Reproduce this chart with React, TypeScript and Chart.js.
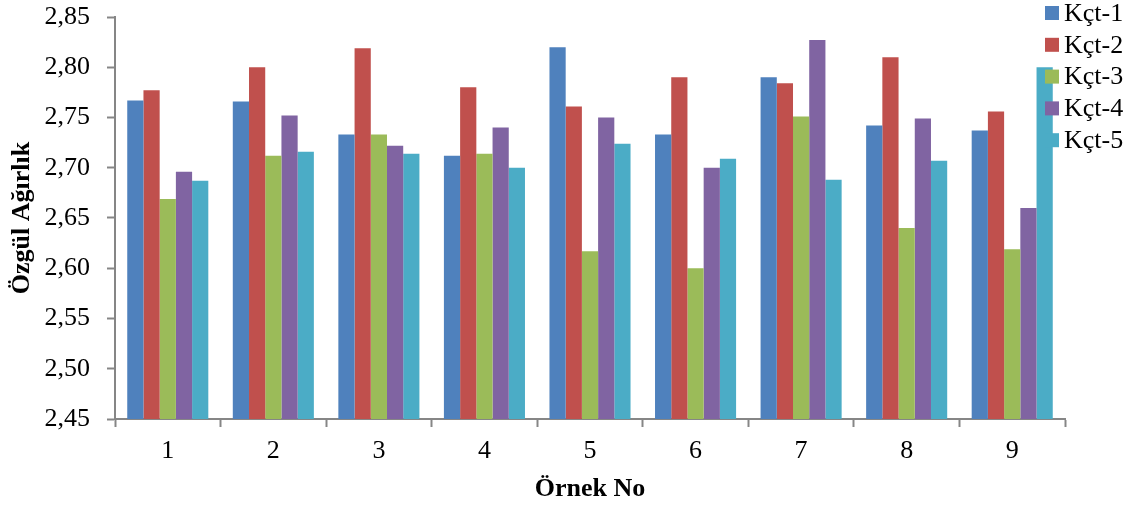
import React, { useEffect, useRef } from "react";
import { Chart, registerables } from "chart.js";
Chart.register(...registerables);

const categories = ["1", "2", "3", "4", "5", "6", "7", "8", "9"];
const seriesNames = ["Kçt-1", "Kçt-2", "Kçt-3", "Kçt-4", "Kçt-5"];
const kct1 = [2.767, 2.766, 2.733, 2.712, 2.820, 2.733, 2.790, 2.742, 2.737];
const kct2 = [2.777, 2.800, 2.819, 2.780, 2.761, 2.790, 2.784, 2.810, 2.756];
const kct3 = [2.669, 2.712, 2.733, 2.714, 2.617, 2.600, 2.751, 2.640, 2.619];
const kct4 = [2.696, 2.752, 2.722, 2.740, 2.750, 2.700, 2.827, 2.749, 2.660];
const kct5 = [2.687, 2.716, 2.714, 2.700, 2.724, 2.709, 2.688, 2.707, 2.800];
const colors = ["#4F81BD", "#C0504D", "#9BBB59", "#8064A2", "#4BACC6"];
const yMin = 2.45;
const yMax = 2.85;
const yStep = 0.05;

const FONT = "'Liberation Serif', 'Times New Roman', serif";
const AXIS = "#868686";
const FS = 26;

const overlayLegend = {
  id: "overlayLegend",
  afterDraw(chart: any) {
    const ctx = chart.ctx;
    ctx.save();
    ctx.font = `${FS}px ${FONT}`;
    ctx.textBaseline = "middle";
    ctx.textAlign = "left";
    chart.data.datasets.forEach((ds: any, i: number) => {
      const cy = 13 + i * 31.8;
      ctx.fillStyle = ds.backgroundColor;
      ctx.fillRect(1045, cy - 7, 14, 14);
      ctx.fillStyle = "#000";
      ctx.fillText(ds.label, 1064, cy + 1);
    });
    ctx.restore();
  },
};

export default function App() {
  const ref = useRef<HTMLCanvasElement>(null);
  useEffect(() => {
    const data = [kct1, kct2, kct3, kct4, kct5];
    const chart = new Chart(ref.current!, {
      type: "bar",
      data: {
        labels: categories,
        datasets: data.map((d, i) => ({
          label: seriesNames[i],
          data: d,
          backgroundColor: colors[i],
          borderWidth: 0,
          categoryPercentage: 0.768,
          barPercentage: 1,
        })),
      },
      plugins: [overlayLegend],
      options: {
        animation: false,
        responsive: true,
        maintainAspectRatio: false,
        layout: { padding: { top: 17, right: 69, left: 0, bottom: 0 } },
        plugins: {
          legend: { display: false },
          tooltip: { enabled: false },
        },
        scales: {
          x: {
            offset: true,
            grid: {
              display: true,
              offset: true,
              drawOnChartArea: false,
              drawTicks: true,
              tickLength: 8,
              tickWidth: 2,
              tickColor: AXIS,
            },
            border: { display: true, color: AXIS, width: 2 },
            ticks: {
              color: "#000",
              font: { family: FONT, size: FS },
              padding: 9,
              maxRotation: 0,
            },
            title: {
              display: true,
              text: "Örnek No",
              color: "#000",
              font: { family: FONT, size: FS, weight: "bold" },
              padding: { top: 0, bottom: 1 },
            },
            afterFit(scale: any) {
              scale.height = 87;
              scale.paddingLeft = 0;
              scale.paddingRight = 0;
            },
          },
          y: {
            min: yMin,
            max: yMax,
            grid: {
              display: true,
              drawOnChartArea: false,
              drawTicks: true,
              tickLength: 8,
              tickWidth: 2,
              tickColor: AXIS,
            },
            border: { display: true, color: AXIS, width: 2 },
            ticks: {
              stepSize: yStep,
              color: "#000",
              font: { family: FONT, size: FS },
              padding: 17,
              callback: (v: any) => Number(v).toFixed(2).replace(".", ","),
            },
            title: {
              display: true,
              text: "Özgül Ağırlık",
              color: "#000",
              font: { family: FONT, size: FS, weight: "bold" },
              padding: { top: 7, bottom: 0 },
            },
            afterFit(scale: any) {
              scale.width = 115;
              scale.paddingTop = 0;
              scale.paddingBottom = 0;
            },
          },
        },
      },
    });
    return () => chart.destroy();
  }, []);
  return (
    <div style={{ position: "fixed", left: 0, top: 0, width: 1134, height: 506, background: "#fff" }}>
      <canvas ref={ref} />
    </div>
  );
}
